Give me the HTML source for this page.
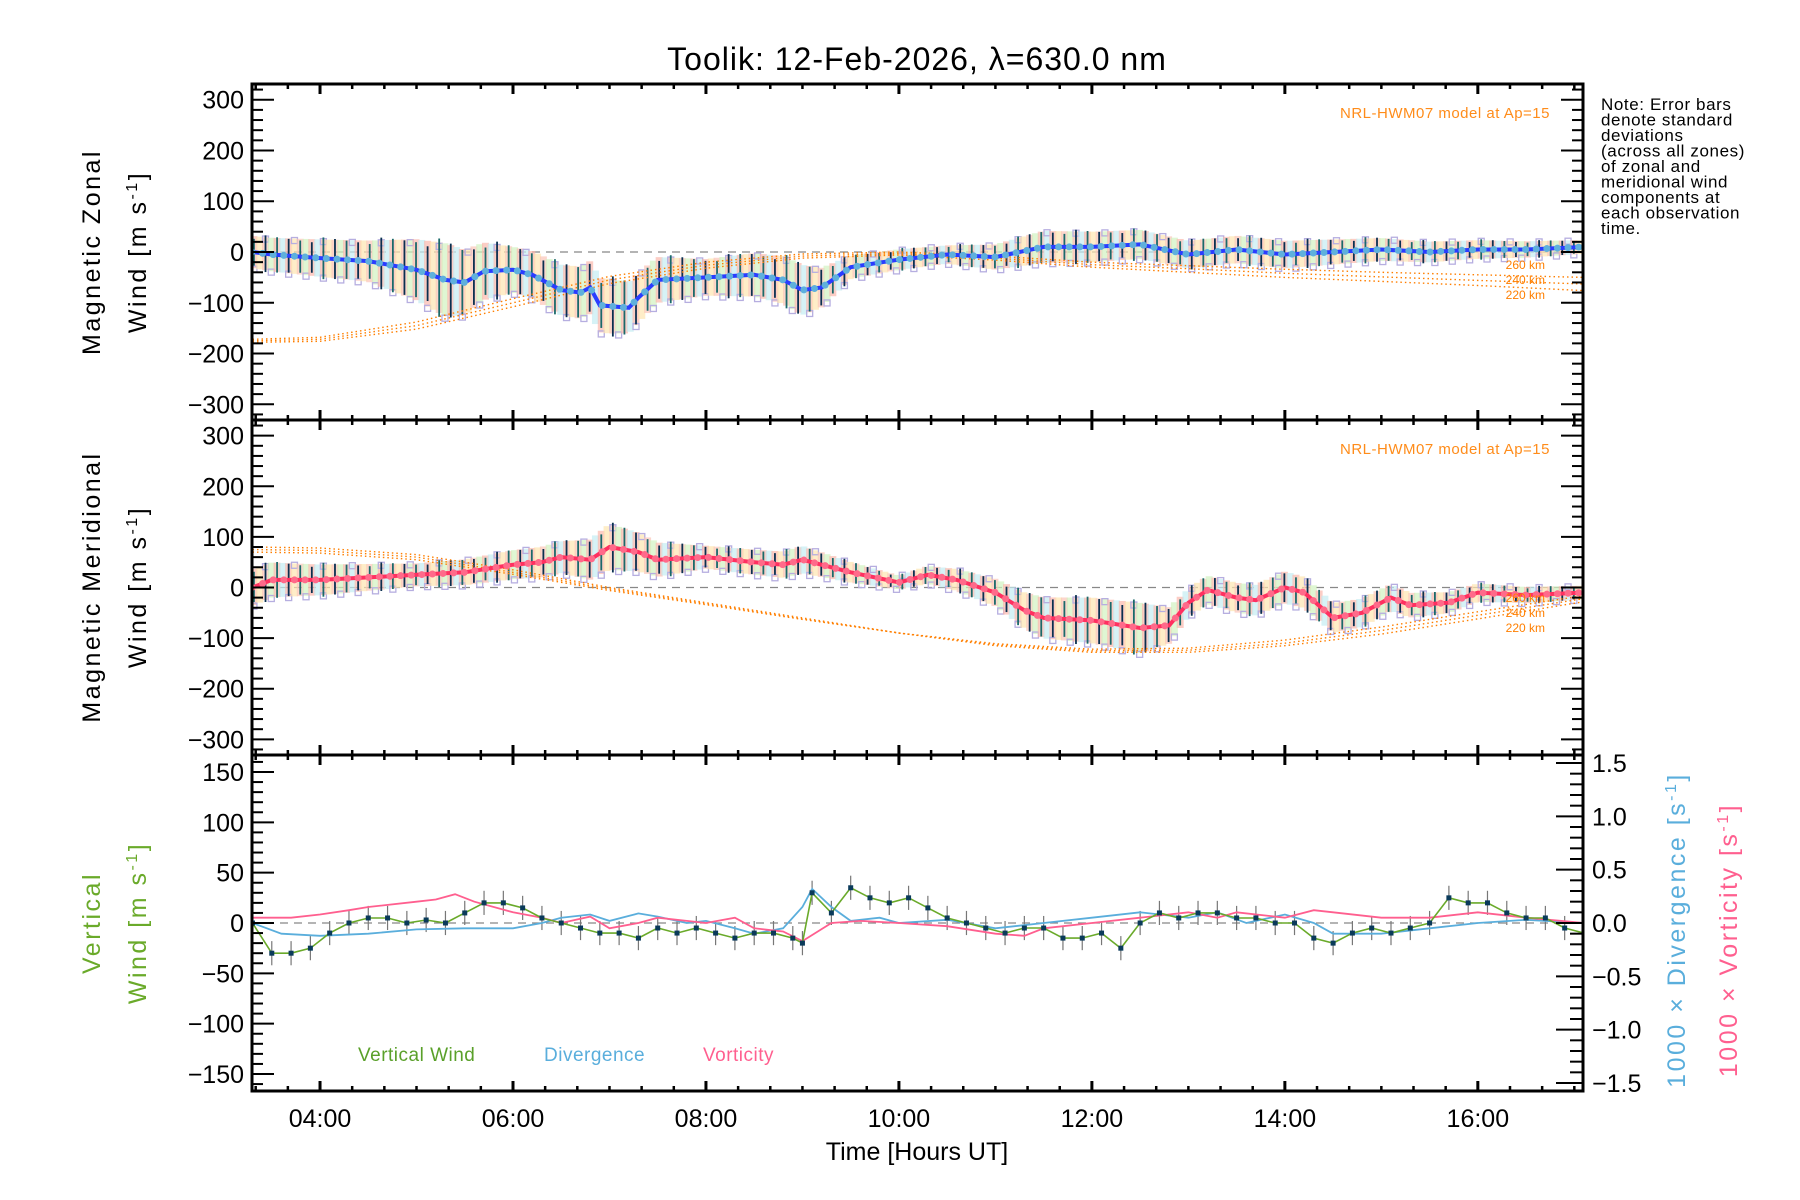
<!DOCTYPE html>
<html><head><meta charset="utf-8">
<style>
html,body{margin:0;padding:0;background:#fff;}
svg{display:block;font-family:"Liberation Sans",sans-serif;}
</style></head>
<body>
<svg id="chart" width="1800" height="1200" viewBox="0 0 1800 1200" xmlns="http://www.w3.org/2000/svg">
<rect width="1800" height="1200" fill="#fff"/>
<text x="917" y="70" font-size="32" text-anchor="middle" letter-spacing="1">Toolik: 12-Feb-2026, λ=630.0 nm</text>
<g font-size="17" fill="#000" letter-spacing="0.6">
<text x="1601" y="110">Note: Error bars</text>
<text x="1601" y="125.5">denote standard</text>
<text x="1601" y="141">deviations</text>
<text x="1601" y="156.5">(across all zones)</text>
<text x="1601" y="172">of zonal and</text>
<text x="1601" y="187.5">meridional wind</text>
<text x="1601" y="203">components at</text>
<text x="1601" y="218.5">each observation</text>
<text x="1601" y="234">time.</text>
</g>
<g id="layer"></g>
</svg>
<script>
// ---- data ----
const zonalT = [3.3,3.5,4.0,4.5,5.0,5.3,5.5,5.7,6.0,6.2,6.5,6.7,6.8,6.9,7.2,7.3,7.5,8.0,8.5,8.8,9.0,9.2,9.5,10.0,10.5,11.0,11.5,12.0,12.5,13.0,13.5,14.0,14.5,15.0,15.5,16.0,16.5,17.1];
const zonalV = [0,-5,-12,-18,-35,-55,-60,-38,-35,-45,-75,-80,-70,-105,-110,-90,-55,-50,-45,-55,-75,-70,-30,-15,-5,-10,10,10,15,-5,5,-5,0,5,0,5,5,10];
const zonalErrT = [3.3,4.5,5.3,6.0,7.0,8.0,9.0,9.5,10.5,11.5,13.0,14.0,15.0,17.1];
const zonalErrV = [35,45,80,50,60,40,55,25,20,35,30,30,25,15];
const meridT = [3.3,3.5,4.0,4.5,5.0,5.5,6.0,6.3,6.5,6.8,7.0,7.3,7.5,8.0,8.5,8.8,9.0,9.3,9.5,10.0,10.3,10.6,11.0,11.3,11.5,12.0,12.5,12.8,13.0,13.2,13.5,13.7,14.0,14.2,14.5,14.8,15.1,15.3,15.7,16.0,16.5,17.1];
const meridV = [0,15,15,20,25,30,45,50,60,55,80,70,55,60,50,45,55,40,30,10,25,15,-10,-45,-60,-65,-80,-75,-30,-5,-20,-25,0,-10,-60,-50,-20,-35,-30,-10,-15,-10];
const meridErrT = [3.3,5.0,6.5,7.0,8.0,9.0,10.0,11.0,11.5,12.5,13.0,14.0,15.0,16.0,17.1];
const meridErrV = [40,25,35,50,25,30,15,30,45,55,30,35,30,20,15];
const modelT = [3.3,4,5,6,7,8,9,10,11,12,13,14,15,16,17.1];
const zonal220 = [-178,-176,-152,-108,-62,-32,-12,-6,-16,-30,-40,-50,-58,-66,-76];
const zonal240 = [-175,-172,-145,-100,-55,-26,-8,-3,-12,-25,-33,-42,-49,-56,-63];
const zonal260 = [-172,-168,-138,-92,-48,-20,-4,0,-8,-20,-27,-34,-40,-45,-50];
const merid220 = [80,78,65,35,0,-30,-60,-90,-115,-128,-128,-115,-92,-62,-28];
const merid240 = [75,73,60,30,-3,-32,-62,-90,-113,-125,-124,-110,-85,-55,-22];
const merid260 = [70,68,55,26,-6,-34,-63,-90,-111,-122,-120,-104,-78,-48,-16];
const vertT = [3.3,3.5,3.7,3.9,4.1,4.3,4.5,4.7,4.9,5.1,5.3,5.5,5.7,5.9,6.1,6.3,6.5,6.7,6.9,7.1,7.3,7.5,7.7,7.9,8.1,8.3,8.5,8.7,8.9,9.0,9.1,9.3,9.5,9.7,9.9,10.1,10.3,10.5,10.7,10.9,11.1,11.3,11.5,11.7,11.9,12.1,12.3,12.5,12.7,12.9,13.1,13.3,13.5,13.7,13.9,14.1,14.3,14.5,14.7,14.9,15.1,15.3,15.5,15.7,15.9,16.1,16.3,16.5,16.7,16.9,17.1];
const vertV = [0,-30,-30,-25,-10,0,5,5,0,3,0,10,20,20,15,5,0,-5,-10,-10,-15,-5,-10,-5,-10,-15,-10,-10,-15,-20,30,10,35,25,20,25,15,5,0,-5,-10,-5,-5,-15,-15,-10,-25,0,10,5,10,10,5,5,0,0,-15,-20,-10,-5,-10,-5,0,25,20,20,10,5,5,-5,-10];
const divT = [3.3,3.6,4.0,4.5,5.0,5.5,6.0,6.3,6.5,6.8,7.0,7.3,7.5,7.8,8.0,8.3,8.5,8.8,9.0,9.1,9.3,9.5,9.8,10.0,10.5,11.0,11.5,12.0,12.5,13.0,13.3,13.6,14.0,14.3,14.5,15.0,15.5,16.0,16.5,17.1];
const divV = [0.0,-0.1,-0.12,-0.1,-0.06,-0.05,-0.05,0.0,0.05,0.08,0.02,0.09,0.06,0.0,0.02,-0.05,-0.1,-0.05,0.15,0.32,0.15,0.02,0.05,0.0,0.03,-0.05,0.0,0.05,0.1,0.05,0.1,0.0,0.08,0.0,-0.1,-0.1,-0.05,0.0,0.03,0.0];
const vortT = [3.3,3.7,4.0,4.3,4.5,5.0,5.2,5.4,5.6,6.0,6.3,6.5,6.8,7.0,7.3,7.5,8.0,8.3,8.5,8.8,9.0,9.3,9.6,10.0,10.5,11.0,11.3,11.5,12.0,12.5,13.0,13.3,13.5,14.0,14.3,14.5,15.0,15.5,16.0,16.5,17.1];
const vortV = [0.05,0.05,0.08,0.12,0.15,0.2,0.22,0.27,0.2,0.1,0.05,0.0,0.06,-0.05,0.0,0.05,0.0,0.05,-0.05,-0.08,-0.17,0.0,0.02,0.0,-0.03,-0.1,-0.12,-0.05,0.0,0.05,0.1,0.05,0.1,0.05,0.12,0.1,0.05,0.05,0.1,0.05,0.0];
const xTickLabels = ["04:00","06:00","08:00","10:00","12:00","14:00","16:00"];
const windTicks = [-300,-200,-100,0,100,200,300];
const vertTicks = [-150,-100,-50,0,50,100,150];
const rightTicks = ["-1.5","-1.0","-0.5","0.0","0.5","1.0","1.5"];

// ---- geometry ----
const L=252,R=1583,T0=3.295,T1=17.09;
const X=t=>L+(t-T0)/(T1-T0)*(R-L);
const P=[{top:84,bot:420},{top:420,bot:755},{top:755,bot:1091}];
const yW=(p,v)=>{const c=(P[p].top+P[p].bot)/2;return c-v*(P[p].bot-P[p].top)/2/331;};
const yV=v=>923-v*(151/150);
const yR=v=>923-v*(160/1.5);
const NS="http://www.w3.org/2000/svg";
const layer=document.getElementById('layer');
function mk(tag,attrs,parent){const e=document.createElementNS(NS,tag);for(const k in attrs)e.setAttribute(k,attrs[k]);(parent||layer).appendChild(e);return e;}
function interp(ts,vs,t){if(t<=ts[0])return vs[0];for(let i=1;i<ts.length;i++){if(t<=ts[i]){const f=(t-ts[i-1])/(ts[i]-ts[i-1]);return vs[i-1]+f*(vs[i]-vs[i-1]);}}return vs[vs.length-1];}
function poly(ts,vs,fx,fy){return ts.map((t,i)=>fx(t).toFixed(1)+','+fy(vs[i]).toFixed(1)).join(' ');}

const clip=mk('defs',{});
P.forEach((p,i)=>{const c=mk('clipPath',{id:'clip'+i},clip);mk('rect',{x:L,y:p.top,width:R-L,height:p.bot-p.top},c);});

// ---- wind panels ----
function windPanel(pi,ts,vs,ets,evs,models,lineCol,dotCol,name){
  const g=mk('g',{'clip-path':'url(#clip'+pi+')'});
  
  
  const z=mk('line',{x1:L,x2:R,y1:yW(pi,0),y2:yW(pi,0),stroke:'#888','stroke-dasharray':'8,6','stroke-width':1.3},g);
  
  
  const bands=mk('g',{},g);
  
  
  const bars=mk('g',{},g);
  
  
  const cols=['#fbb8ad','#fde6b0','#fbc4b8','#d2f2c0','#fbb8ad','#c4ecf2'];
  let k=0;
  for(let t=T0+0.02;t<T1;t+=0.06,k++){
    const v=interp(ts,vs,t), e=interp(ets,evs,t);
    const x=X(t);
    const f=0.75+0.25*((k*7)%5)/4;
    mk('rect',{x:x-3.5,y:yW(pi,v+e*0.9),width:7,height:yW(pi,v-e*0.9)-yW(pi,v+e*0.9),fill:cols[k%6],opacity:0.7},bands);
    if(k%2===0){
      mk('line',{x1:x,x2:x,y1:yW(pi,v+e*f),y2:yW(pi,v-e*f),stroke:k%4?'#0a3050':'#1a6a6a','stroke-width':1.8},bars);
    }
    if(k%3===0){mk('rect',{x:x-3,y:yW(pi,v-e*0.95)-3,width:6,height:6,fill:'none',stroke:'#b6aee0','stroke-width':1.3},bands);}
    if(k%5===2){mk('rect',{x:x-3,y:yW(pi,v+e*0.8)-3,width:6,height:6,fill:'none',stroke:'#b6aee0','stroke-width':1.3},bands);}
  }
  const mg=mk('g',{},g);
  
  
  models.forEach(m=>{mk('polyline',{points:poly(modelT,m,X,v=>yW(pi,v)),fill:'none',stroke:'#ff7f00','stroke-width':1.4,'stroke-dasharray':'1.5,3'},mg);});
  const ln=mk('polyline',{points:poly(ts,vs,X,v=>yW(pi,v)),fill:'none',stroke:lineCol,'stroke-width':4},g);
  
  
  const dg=mk('g',{},g);
  
  
  for(let t=T0;t<T1;t+=0.11){mk('circle',{cx:X(t),cy:yW(pi,interp(ts,vs,t)),r:3.5,fill:dotCol},dg);}
  const lt=mk('g',{'font-size':12,fill:'#ff7f00'});
  
  
  ['260 km','240 km','220 km'].forEach((s,i)=>{const tt=mk('text',{x:1545,y:P[pi].top+(pi===0?185:182)+i*15,'text-anchor':'end'},lt);tt.textContent=s;});
  const nt=mk('text',{x:1550,y:P[pi].top+34,'font-size':15,fill:'#ff8c1a','text-anchor':'end','letter-spacing':'0.5'});
  nt.textContent='NRL-HWM07 model at Ap=15';
  
  
}
windPanel(0,zonalT,zonalV,zonalErrT,zonalErrV,[zonal220,zonal240,zonal260],'#2a3cff','#5fb0dc','zonal');
windPanel(1,meridT,meridV,meridErrT,meridErrV,[merid220,merid240,merid260],'#ff3060','#ff6a8a','meridional');

// ---- vertical panel ----
(function(){
  const g=mk('g',{'clip-path':'url(#clip2)'});
  
  
  mk('line',{x1:L,x2:R,y1:yV(0),y2:yV(0),stroke:'#888','stroke-dasharray':'8,6','stroke-width':1.3},g);
  const eb=mk('g',{},g);
  
  
  vertT.forEach((t,i)=>{mk('line',{x1:X(t),x2:X(t),y1:yV(vertV[i]+12),y2:yV(vertV[i]-12),stroke:'#777','stroke-width':1.2},eb);});
  const d=mk('polyline',{points:poly(divT,divV,X,yR),fill:'none',stroke:'#5aaedc','stroke-width':1.8},g);
  
  
  const vo=mk('polyline',{points:poly(vortT,vortV,X,yR),fill:'none',stroke:'#ff5f8f','stroke-width':1.8},g);
  
  
  const vl=mk('polyline',{points:poly(vertT,vertV,X,yV),fill:'none',stroke:'#6aaa2a','stroke-width':1.6},g);
  
  
  const pg=mk('g',{},g);
  
  
  vertT.forEach((t,i)=>{mk('rect',{x:X(t)-2.5,y:yV(vertV[i])-2.5,width:5,height:5,fill:'#0a3a5a'},pg);});
  [['Vertical Wind',358,'#5aa02a','legend-vertical-wind'],['Divergence',544,'#5aaedc','legend-divergence'],['Vorticity',703,'#ff5f8f','legend-vorticity']].forEach(a=>{
    const t=mk('text',{x:a[1],y:1061,'font-size':19,fill:a[2],'letter-spacing':'0.5'});t.textContent=a[0];
    
    
  });
})();

// ---- axes ----
const ax=mk('g',{stroke:'#000'});


P.forEach(p=>mk('rect',{x:L,y:p.top,width:R-L,height:p.bot-p.top,fill:'none','stroke-width':3},ax));
const xt=mk('g',{stroke:'#000','stroke-width':2});


for(let m=Math.ceil(T0*3);m<=Math.floor(T1*3);m++){
  const t=m/3,x=X(t),maj=(m%6===0);
  const len=maj?10:5;
  P.forEach(p=>{mk('line',{x1:x,x2:x,y1:p.bot,y2:p.bot-len,'stroke-width':maj?3:2.5},xt);mk('line',{x1:x,x2:x,y1:p.top,y2:p.top+len,'stroke-width':maj?3:2.5},xt);});
}
const xl=mk('g',{'font-size':25,'text-anchor':'middle'});


xTickLabels.forEach((s,i)=>{const t=mk('text',{x:X(4+2*i),y:1127},xl);t.textContent=s;});
const xtitle=mk('text',{x:917,y:1160,'font-size':25,'text-anchor':'middle'});
xtitle.textContent='Time [Hours UT]';



function yTicks(pi,fy,minor,major,lo,hi,labels,labVals,side){
  const g=mk('g',{stroke:'#000'});
  
  
  for(let v=lo;v<=hi+1e-9;v+=minor){
    const y=fy(v); if(y<P[pi].top-0.5||y>P[pi].bot+0.5)continue;
    const maj=Math.abs(Math.round(v/major)*major-v)<1e-6;
    const len=maj?22:11;
    mk('line',{x1:L,x2:L+len,y1:y,y2:y,'stroke-width':2},g);
    mk('line',{x1:R,x2:R-len,y1:y,y2:y,'stroke-width':2},g);
  }
  const tl=mk('g',{'font-size':25,'text-anchor':'end'});
  
  
  labVals.forEach((v,i)=>{const t=mk('text',{x:244,y:fy(v)+9},tl);t.textContent=String(labels[i]).replace('-','\u2212');});
}
yTicks(0,v=>yW(0,v),20,100,-320,320,windTicks,windTicks,'left');
yTicks(1,v=>yW(1,v),20,100,-320,320,windTicks,windTicks,'left');
(function(){
  const g=mk('g',{stroke:'#000'});
  
  
  for(let v=-160;v<=160;v+=10){const y=yV(v);if(y<P[2].top||y>P[2].bot)continue;const maj=v%50===0;mk('line',{x1:L,x2:L+(maj?22:11),y1:y,y2:y,'stroke-width':2},g);}
  for(let v=-15;v<=15;v++){const y=yR(v/10);if(y<P[2].top||y>P[2].bot)continue;const maj=v%5===0;mk('line',{x1:R,x2:R-(maj?27:13),y1:y,y2:y,'stroke-width':2},g);}
  const tl=mk('g',{'font-size':25,'text-anchor':'end'});
  
  
  vertTicks.forEach(v=>{const t=mk('text',{x:244,y:yV(v)+9},tl);t.textContent=String(v).replace('-','\u2212');});
  const tr=mk('g',{'font-size':25});
  
  
  rightTicks.forEach(s=>{const t=mk('text',{x:1592,y:yR(parseFloat(s))+9},tr);t.textContent=s.replace('-','\u2212');});
})();

function vtitle(x,y,lines,col,name){
  const t=mk('text',{transform:`translate(${x},${y}) rotate(-90)`,'font-size':25,'text-anchor':'middle',fill:col,'letter-spacing':'2.5'});
  t.innerHTML=lines;
  
  
}
const sup='[m s<tspan font-size="16" dy="-9">-1</tspan><tspan dy="9">]</tspan>';
vtitle(100,252,'Magnetic Zonal','#000','zonal-y-title-line1');
vtitle(146,252,'Wind '+sup,'#000','zonal-y-title-line2');
vtitle(100,587,'Magnetic Meridional','#000','meridional-y-title-line1');
vtitle(146,587,'Wind '+sup,'#000','meridional-y-title-line2');
vtitle(100,923,'Vertical','#6aaa2a','vertical-y-title-line1');
vtitle(146,923,'Wind '+sup,'#6aaa2a','vertical-y-title-line2');
vtitle(1685,930,'1000 × Divergence [s<tspan font-size="16" dy="-9">-1</tspan><tspan dy="9">]</tspan>','#5aaedc','divergence-y-title');
vtitle(1737,940,'1000 × Vorticity [s<tspan font-size="16" dy="-9">-1</tspan><tspan dy="9">]</tspan>','#ff5f8f','vorticity-y-title');
</script>
</body></html>
